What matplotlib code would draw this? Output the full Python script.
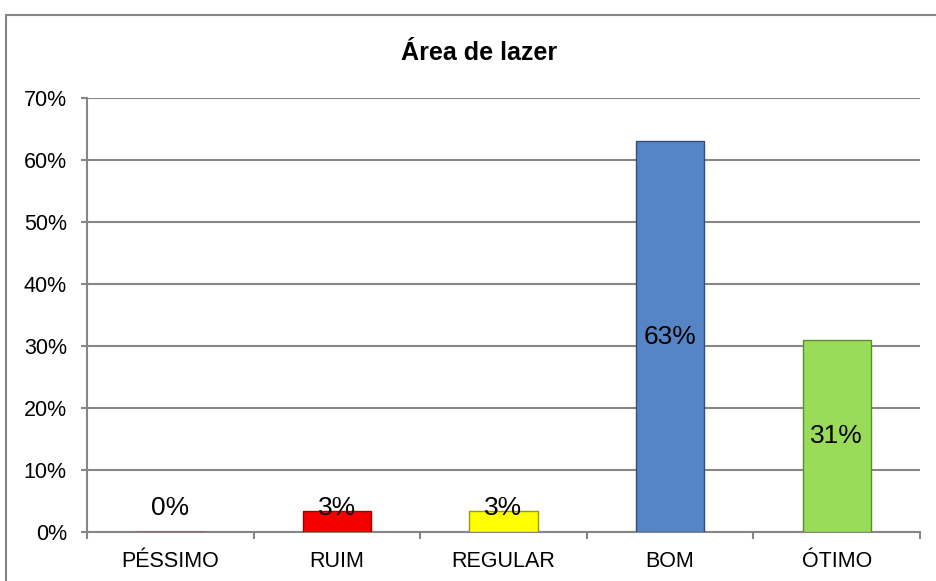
import matplotlib
matplotlib.use("Agg")
import matplotlib.pyplot as plt
from matplotlib.patches import Rectangle
from matplotlib.ticker import FixedLocator, PercentFormatter

categories = ["PÉSSIMO", "RUIM", "REGULAR", "BOM", "ÓTIMO"]
values = [0.0, 3.4, 3.4, 63.0, 31.0]
labels = ["0%", "3%", "3%", "63%", "31%"]
yticks = [0, 10, 20, 30, 40, 50, 60, 70]
title = "Área de lazer"

colors = ["#FF0000", "#F50000", "#FFFF00", "#5585C5", "#9BDB5A"]
edges = ["#A00000", "#A00000", "#9A9A00", "#2F4F7F", "#5E8A30"]

plt.rcParams['font.family'] = ['Liberation Sans', 'DejaVu Sans']

fig = plt.figure(figsize=(9.36, 5.81), dpi=100)
ax = fig.add_axes([87/936, 1-532/581, (920-87)/936, (532-98)/581])

x = list(range(len(categories)))
ax.bar(x, values, width=0.41, color=colors, edgecolor=edges, linewidth=1.0, zorder=3)

for xi, v, lab in zip(x, values, labels):
    y = max(v / 2, 3.9)
    ax.text(xi, y, lab, ha="center", va="center", fontsize=19, color="black", zorder=4)

ax.set_xlim(-0.5, len(categories) - 0.5)
ax.set_ylim(0, 70)
ax.set_yticks(yticks)
ax.yaxis.set_major_formatter(PercentFormatter(decimals=0))
ax.set_xticks(x)
ax.set_xticklabels(categories)
ax.xaxis.set_minor_locator(FixedLocator([i - 0.5 for i in range(len(categories) + 1)]))
ax.tick_params(axis="x", which="major", length=0, labelsize=15.5, pad=14)
ax.tick_params(axis="x", which="minor", length=5, color="#868686", width=1.5)
ax.tick_params(axis="y", which="major", length=4.5, color="#868686", width=1.5, labelsize=15.5, pad=10)

ax.yaxis.grid(True, color="#868686", linewidth=1.5, zorder=0)
ax.set_axisbelow(True)
for s in ["top", "right"]:
    ax.spines[s].set_visible(False)
for s in ["left", "bottom"]:
    ax.spines[s].set_color("#868686")
    ax.spines[s].set_linewidth(1.5)

fig.text(479/936, 1-53/581, title, ha="center", va="center", fontsize=18, fontweight="bold")

border = Rectangle((6/936, -0.1), 1.2, 1-15/581+0.1, transform=fig.transFigure,
                   fill=False, edgecolor="#868686", linewidth=1.5, clip_on=False)
fig.add_artist(border)

fig.savefig("out.png", dpi=100)
